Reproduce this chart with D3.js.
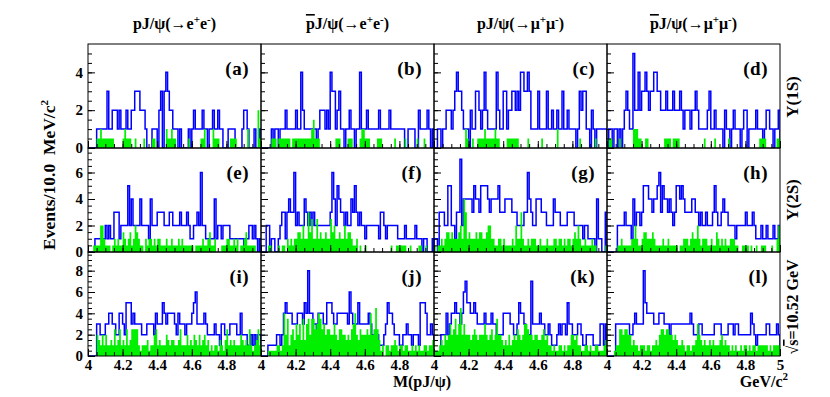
<!DOCTYPE html>
<html>
<head>
<meta charset="utf-8">
<script src="https://cdn.jsdelivr.net/npm/d3@7"></script>
<style>
  body { margin: 0; background: #fff; }
  text { font-family: 'Liberation Serif', 'Times New Roman', serif; font-weight: bold; }
  .frame { fill: none; stroke: #000; stroke-width: 1; }
  .tick line { stroke: #000; }
  .domain { display: none; }
</style>
</head>
<body>
<div id="chart"></div>
<script>
// bin contents, 100 bins of 10 MeV from 4.00 to 5.00 GeV
// blue = signal region, green = scaled sideband
var blueA = [0,0,0,0,0,1,1,1,1,1, 1,3,1,1,2,2,2,1,2,1, 1,1,2,1,1,2,2,3,3,3, 2,2,2,1,0,0,0,1,1,1,
             0,2,3,0,3,4,3,2,2,1, 1,1,0,1,0,0,0,0,1,0, 1,2,1,1,1,1,2,1,1,0, 1,1,2,1,1,2,1,1,0,0,
             0,1,1,1,1,0,0,0,0,1, 2,2,1,0,0,0,1,0,0,1];
var greenA = [0,0,0,0,0,0.5,0.5,1,0.5,0.5, 0.5,0.5,0.5,0.5,0.5,0,0,0,0,0, 0.5,1,0.5,0.5,0.5,0,0,0.5,0,0,
              0,0,0.5,0,0,0,0,0.5,0.5,0, 0,0,0,0,0,1,0.5,0.5,1,0.5, 0.5,0,0,0,0,0,0,0,0.5,0,
              0,0,0,0,0,0.5,0.5,1,0,0, 0,0,1,0.5,0.5,0.5,0,0,0,0, 0,0,0.5,0.5,0.5,0.5,0,0,0,0,
              0,0,1,0,0,0,0,0,2,0.5];
var blueB = [0,0,0,0,0,0,1,0,1,1, 0,1,1,1,2,1,1,1,1,1, 2,1,1,4,2,1,1,1,1,1, 1,1,0,1,2,2,2,1,2,1,
             4,3,3,1,2,3,1,1,0,1, 1,2,1,1,0,1,1,4,1,1, 1,2,1,1,1,1,1,1,2,1, 1,1,1,1,2,1,1,1,1,1,
             1,1,1,0,0,1,1,1,1,0, 0,2,1,1,1,1,2,1,0,1];
var greenB = [0,0,0,0,0,0,0.5,0.5,0.5,0, 0.5,0.5,0.5,0.5,0.5,0.5,0.5,0,0.5,0.5, 0.5,0.5,0.5,0.5,0.5,0.5,0.5,0.5,0.5,1,
              1.5,0.5,0.5,0.5,0,0,0,0,0,0, 0,0,0,0.5,0.5,0.5,0,0,0,0, 0.5,0.5,0.5,0,0,0,0,0.5,1,1,
              0.5,0.5,0.5,0,0,0,0,0.5,0.5,0.5, 0,0,0,0,0,0,0,0.5,0,0, 0,0,0,0.5,0,0,0,0,0,0,
              0.5,0,0,0,0.5,0,0,0,0,0];
var blueC = [0,0,1,1,0,1,1,2,2,2, 1,2,3,4,3,3,2,1,1,1, 0,2,1,1,3,3,2,1,2,4, 2,1,1,1,1,1,4,2,1,1,
             3,3,1,2,2,3,3,2,3,2, 4,4,3,3,4,3,1,1,1,1, 3,1,1,1,1,3,1,1,2,1, 1,2,1,1,3,1,1,2,1,1,
             1,1,0,1,3,2,3,3,1,1, 0,2,1,0,1,1,1,1,1,1];
var greenC = [0,0,0,0,0,0,0,0,0,0, 0,0,0,0,0,0,0,0,1,0.5, 0,0,0.5,0,0,0.5,0.5,0.5,0.5,1,
              0.5,0.5,0.5,0.5,0.5,1,0.5,0.5,0,0, 0,0,0.5,0.5,0.5,0.5,0.5,0.5,0.5,0, 0,0,0,0,0.5,0,0,0,0,0,
              0,0,0.5,0,0,0,0,0,0,0, 0,1,0,0,0,0,0,0,0,0, 0,0,0,0,0.5,0,0,0,0,0,
              0,0,0,0.5,0,0,0,0,0,0];
var blueD = [0,1,1,0,1,1,0,1,0,1, 2,3,2,1,1,5,2,2,4,2, 3,3,4,3,2,3,3,4,4,3, 3,2,2,2,3,2,2,2,3,2,
             2,2,3,2,1,2,2,2,1,2, 2,3,2,1,1,1,1,1,2,3, 1,1,2,1,1,1,1,0,2,1, 1,0,1,2,1,1,1,0,1,2,
             2,0,1,1,1,1,2,1,1,1, 0,1,2,2,1,1,0,1,1,2];
var greenD = [0,0.5,0.5,0,0,0,0,0.5,0,0, 0,0,0,0,0,1,1,1,0.5,0.5, 0,0,0.5,0.5,0,0,0,0,0,0,
              0,0,0,0.5,0.5,0.5,0.5,0,0.5,0.5, 0.5,0.5,0,0,0,0,0,0,0,0, 0,0,0,0,0,0,0.5,0,0,0,
              0,0,0.5,0,0,0,0,0,0,0, 0.5,0,0,0,0,0,0,0,0,0, 0,0,0,0,0,0,0,0,0.5,0.5,
              0.5,0.5,0,0,0,0,0,0,0.5,0.5];

var blueE = [0,0,0,0,1,1,1,1,1,1, 2,1,2,1,1,3,3,3,1,2, 2,2,2,5,2,4,2,2,2,2, 4,2,2,2,2,1,4,2,2,2,
             3,3,3,3,2,2,2,3,3,2, 2,2,2,3,2,2,2,3,2,1, 1,2,2,3,2,6,2,2,1,1, 1,1,1,4,1,2,2,1,2,2,
             2,2,1,1,1,1,1,1,1,1, 0,1,1,2,2,1,2,1,0,1];
var greenE = [0,0,0,0.5,0.5,0.5,0.5,2,2,1, 0.5,0.5,0.5,0,0.5,1,0.5,1,0.5,0.5, 1.5,1,0.5,1,1.5,0.5,1,2,1.5,1,
              0.5,0.5,0,1,0.5,1,1,0.5,1,0.5, 1,1,0.5,0.5,0.5,1,0.5,0.5,1,0.5, 0.5,0.5,1,0.5,1,0.5,0.5,0.5,0.5,0.5,
              0.5,0,0.5,0.5,0.5,0.5,1,0.5,0.5,1, 1.5,0.5,0.5,1,0,0,0,0.5,0.5,0.5, 1,1,0.5,0.5,1,0.5,1,0,0.5,0.5,
              1,1.5,0.5,0.5,0.5,0.5,0.5,0,0,0];
var blueF = [0,0,0,2,2,0,1,1,0,0, 1,2,3,3,1,3,4,3,3,6, 2,3,2,2,2,4,3,2,3,2, 3,2,2,2,2,2,2,2,2,2,
             3,6,4,2,5,4,3,3,2,3, 2,2,4,3,5,3,2,3,2,2, 1,2,2,2,2,2,2,2,1,3, 3,2,1,2,2,2,2,2,2,1,
             1,1,1,2,1,1,1,1,1,2, 1,1,1,0,1,1,0,0,0,1];
var greenF = [0,0,0,0,0.5,0.5,0,0,0,0, 0.5,0,0.5,0.5,0,1,0.5,1,0.5,1, 1,1.5,1.5,1,2,1,1,3,1.5,2.5,
              1,1,2.5,1,1.5,1,1,1.5,1,1, 2.5,1.5,2,1,1,1.5,1,1,2,1, 1.5,1.5,1,0.5,0.5,1,0,0.5,0,0,
              0.5,0,0,0,0,0,0,0,0,0, 0,0,0,0,0,0.5,0,0,0.5,0.5, 0.5,0.5,0.5,0.5,0,0,0.5,0,0,0,
              0,0.5,0.5,0,0,0.5,0,0,0,0];
var blueG = [1,1,0,3,3,3,2,2,5,5, 2,2,1,3,3,7,2,4,4,4, 4,4,3,5,4,4,3,5,5,5, 5,4,3,4,4,4,4,5,3,3,
             3,4,4,4,4,3,3,3,2,2, 2,2,3,3,6,4,3,2,2,4, 4,4,3,3,3,2,2,2,2,4, 3,3,3,2,2,2,2,3,3,3,
             3,2,2,2,2,2,1,2,2,1, 1,1,1,0,4,1,1,0,0,3];
var greenG = [0.5,0,0.5,0.5,1,0.5,1,1.5,1.5,1, 1.5,1,1,1,1.5,2,1,4,3,1, 1.5,1,1,1,1.5,1,1.5,1.5,1,1,
              1.5,2,2,1,1,0.5,0.5,1,1,0.5, 1,0.5,0.5,0.5,0.5,1,0.5,2,1,1, 3,1,0.5,0.5,1,0.5,1,1,1,0.5,
              0.5,1,0.5,0.5,0.5,1,0.5,0.5,0.5,1, 1,0.5,1,1,0.5,1,0.5,1,1,0.5, 1,1.5,1,2,1,0.5,0.5,1,0.5,0.5,
              0.5,1,0.5,0.5,0,0,0,0,0,0.5];
var blueH = [0,0,0,0,0,0,2,2,2,2, 3,2,2,2,1,4,2,3,3,2, 3,5,5,5,4,4,3,4,4,5, 6,3,5,4,4,3,4,3,2,3,
             5,5,4,5,4,3,3,3,3,4, 4,3,3,2,3,2,2,3,2,2, 2,3,5,3,2,2,3,4,3,3, 2,2,2,2,1,2,2,2,2,2,
             3,2,2,2,3,2,1,1,1,2, 1,1,2,1,1,1,2,1,1,2];
var greenH = [0,0,0,0,0,0,0.5,0.5,1,0.5, 0.5,0.5,0.5,0.5,1,1,2,1,0.5,0.5, 1,1.5,1.5,1,1,1,1.5,1,0.5,0.5,
              0.5,0.5,1,0.5,0.5,1,0.5,0.5,0.5,0.5, 0.5,0,0.5,0.5,1,1,1,0.5,1,1.5, 1,1,2,1,0.5,1,1,1,0.5,0.5,
              1,0.5,0.5,1.5,1,0.5,1,0.5,1,0.5, 0.5,1,1,1,0.5,0.5,0,0,0.5,0.5, 0.5,0.5,0,0.5,0,0,0.5,0,0,0.5,
              0.5,0.5,0,0,0,0.5,0,0,1,2];

var blueI = [0,0,0,0,0,3,3,2,2,2, 3,3,4,4,3,3,2,2,4,4, 3,2,5,5,5,3,4,3,3,3, 3,2,2,2,3,3,3,3,2,4,
             3,3,3,5,4,3,4,4,4,4, 3,2,4,3,3,3,2,3,3,3, 4,5,6,3,3,3,3,4,3,2, 2,2,2,3,2,2,1,3,3,2,
             2,2,3,3,3,3,2,2,4,2, 2,2,1,1,2,1,2,1,2,2];
var greenI = [0,0,0,0,0,2,1.5,1,2,1, 2,1,1,1.5,1,2.5,1,1.5,2.5,1, 1.5,1,2.5,1,1.5,2.5,2.5,2.5,2.5,1,
              0.5,1,1,1,1.5,0.5,1,1,2,2.5, 1,1.5,1,1,1,2,1.5,1,1.5,1.5, 1,1,1.5,2.5,1,1,1,2,1,1.5,
              1,2,1.5,1,2,1,1.5,2,1,1.5, 0.5,1,0.5,1,1,0.5,1.5,1,0.5,1.5, 2.5,1,1.5,1,1.5,1,1,1,2,1.5,
              1,1.5,1,2.5,1,0.5,1,1.5,2.5,1];
var blueJ = [0,0,0,0,1,1,1,1,1,2, 2,1,2,4,5,4,4,4,3,3, 3,4,4,4,3,5,4,8,4,4, 3,3,2,4,4,4,3,3,5,5,
             5,4,3,3,4,4,4,4,4,4, 3,6,4,3,3,3,5,3,3,3, 3,3,4,3,2,2,2,2,1,1, 1,2,3,5,4,4,3,2,2,2,
             1,1,2,2,3,2,2,1,2,2, 2,1,5,5,5,4,2,2,3,2];
var greenJ = [0,0,0,0,0.5,0.5,0.5,0.5,0.5,1, 1,0.5,1,4,2,3.5,1,2,2.5,1.5, 3,2,3,1.5,3.5,1.5,3,3.5,2,3.5,
              3.5,2.5,3,4,3.5,2.5,3,2,2.5,2.5, 2,2,3,2,1.5,2.5,2.5,2,2,1.5, 2,1.5,2.5,3,4,2,1.5,2.5,2,2,
              2,2.5,2,4,2,2.5,4.5,2.5,1.5,0.5, 1,0,1,1,0.5,1,1,1.5,1,0.5, 1,1,0.5,1,1,0.5,0.5,1,0.5,1,
              0.5,1,0.5,0.5,1,1,0.5,1,1,1.5];
var blueK = [0,0,0,0,2,2,2,4,2,3, 4,4,5,4,4,3,4,6,7,5, 5,4,4,5,4,3,3,3,3,4, 3,3,3,4,3,3,2,2,2,2,
             4,4,4,4,3,3,2,2,3,5, 4,4,3,2,2,2,7,3,3,3, 3,4,3,3,2,2,3,2,1,1, 1,2,3,2,3,3,2,5,3,3,
             2,2,2,3,3,2,1,1,2,2, 2,2,1,1,1,1,3,3,1,3];
var greenK = [0.5,0.5,0.5,1,1.5,1,2,1.5,2,3, 2,2.5,3.5,2,3,4.5,2,3,2,2, 2,1.5,2,2.5,2,1.5,2,2,2,3,
              2,1.5,2,2.5,1.5,2,3.5,2,2,1.5, 1,1.5,1,2,1,1.5,2,1.5,2.5,2, 1.5,2,3,3,2.5,2,2,1.5,2,2,
              1.5,1.5,2,2.5,1.5,2,1,1,0.5,1, 0.5,0.5,1,1,0.5,1,0.5,1,1,2, 2,1.5,2,1,1,0.5,0.5,1,1,0.5,
              1,0.5,0.5,1,1,0.5,0.5,0.5,1,1.5];
var blueL = [0,0,0,0,0,3,3,3,3,3, 3,3,3,2,2,3,4,3,3,3, 3,8,5,4,4,4,4,3,3,3, 4,4,4,3,3,3,2,3,3,3,
             3,3,3,3,3,3,3,3,4,3, 2,2,2,3,3,2,2,2,2,2, 2,2,3,3,3,3,2,2,2,2, 3,3,3,2,3,3,2,2,2,2,
             2,2,2,4,3,2,1,2,2,2, 2,2,3,3,2,2,2,2,3,2];
var greenL = [0,0,0,0,0.5,1,1,2.5,2.5,2, 2.5,2.5,2,2,1,1.5,1,1,0.5,1, 1,1,0.5,1,1,0.5,1,1,1.5,1,
              2,2.5,2.5,2,2.5,2.5,2,2,1.5,2, 1.5,1,1,1.5,1,0.5,1,1,0.5,1, 1,1.5,3,2,1.5,1,1.5,1,1,1.5,
              1,1.5,1,1,1,1.5,2,1,1.5,1, 1,0.5,1,0.5,1,0.5,0.5,1,0.5,1, 1,0.5,1,0.5,1,1,0.5,1,1,1,
              1,1,1,0.5,1,0.5,1,1,1,1];

var panelLetters = ["(a)","(b)","(c)","(d)","(e)","(f)","(g)","(h)","(i)","(j)","(k)","(l)"];
var rowMax = [5.5, 7.85, 9.75];
var rowTicks = [[0,2,4], [0,2,4,6], [0,2,4,6,8]];
var xTickLabels = [4, 4.2, 4.4, 4.6, 4.8];

var blueAll = [blueA, blueB, blueC, blueD, blueE, blueF, blueG, blueH, blueI, blueJ, blueK, blueL];
var greenAll = [greenA, greenB, greenC, greenD, greenE, greenF, greenG, greenH, greenI, greenJ, greenK, greenL];

var width = 830, height = 397;
var colEdges = [88, 261, 434, 607, 780];
var rowEdges = [44, 148, 252, 356];
var binW = 0.01;

var svg = d3.select("#chart").append("svg")
    .attr("width", width).attr("height", height);

// column titles
var titles = [[false, "e"], [true, "e"], [false, "\u03BC"], [true, "\u03BC"]];
titles.forEach(function(t, c) {
    var tx = svg.append("text")
        .attr("x", (colEdges[c] + colEdges[c+1]) / 2).attr("y", 29)
        .attr("text-anchor", "middle").attr("font-size", 16);
    if (t[0]) {
        tx.append("tspan").text("p").style("text-decoration", "overline");
    } else {
        tx.append("tspan").text("p");
    }
    tx.append("tspan").text("J/\u03C8(\u2192" + t[1]);
    tx.append("tspan").text("+").attr("dy", -6).attr("font-size", 11);
    tx.append("tspan").text(t[1]).attr("dy", 6);
    tx.append("tspan").text("-").attr("dy", -6).attr("font-size", 11);
    tx.append("tspan").text(")").attr("dy", 6);
});

for (var p = 0; p < 12; p++) {
    var r = Math.floor(p / 4), c = p % 4;
    var x = d3.scaleLinear().domain([4, 5]).range([colEdges[c], colEdges[c+1]]);
    var y = d3.scaleLinear().domain([0, rowMax[r]]).range([rowEdges[r+1], rowEdges[r]]);

    var blue = blueAll[p], green = greenAll[p];
    var pts = [[4, 0]];
    blue.forEach(function(v, i) { pts.push([4 + i * binW, v]); });
    pts.push([5, blue[blue.length - 1]]);
    pts.push([5, 0]);
    var gpts = green.map(function(v, i) { return [4 + i * binW, v]; });
    gpts.push([5, green[green.length - 1]]);

    var clipId = "clip" + p;
    svg.append("clipPath").attr("id", clipId).append("rect")
        .attr("x", colEdges[c]).attr("y", rowEdges[r])
        .attr("width", colEdges[c+1] - colEdges[c]).attr("height", rowEdges[r+1] - rowEdges[r]);

    var g = svg.append("g").attr("clip-path", "url(#" + clipId + ")");

    var line = d3.line().curve(d3.curveStepAfter)
        .x(function(d) { return x(d[0]); }).y(function(d) { return y(d[1]); });
    g.append("path").datum(pts).attr("d", line)
        .attr("fill", "none").attr("stroke", "#0000ff").attr("stroke-width", 1.5);

    var area = d3.area().curve(d3.curveStepAfter)
        .x(function(d) { return x(d[0]); }).y0(y(0)).y1(function(d) { return y(d[1]); });
    g.append("path").datum(gpts).attr("d", area).attr("fill", "#00f000");

    // ticks (inside frame)
    var yMajor = d3.axisLeft(y).tickValues(rowTicks[r]).tickSizeInner(-7).tickSizeOuter(0).tickPadding(5)
        .tickFormat(c === 0 ? d3.format("d") : function() { return ""; });
    var yg = svg.append("g").attr("transform", "translate(" + colEdges[c] + ",0)").call(yMajor);
    yg.selectAll("text").attr("font-size", 15).attr("fill", "#000")
        .style("font-family", "'Liberation Serif', serif").style("font-weight", "bold");
    var yMinor = d3.axisLeft(y).tickValues(d3.range(0, rowMax[r], 0.5)).tickSizeInner(-4).tickSizeOuter(0).tickFormat("");
    svg.append("g").attr("transform", "translate(" + colEdges[c] + ",0)").call(yMinor);

    var xMajor = d3.axisBottom(x).tickValues(d3.range(4, 5.01, 0.2)).tickSizeInner(-7).tickSizeOuter(0).tickFormat("");
    svg.append("g").attr("transform", "translate(0," + rowEdges[r+1] + ")").call(xMajor);
    var xMinor = d3.axisBottom(x).tickValues(d3.range(4, 5.001, 0.05)).tickSizeInner(-4).tickSizeOuter(0).tickFormat("");
    svg.append("g").attr("transform", "translate(0," + rowEdges[r+1] + ")").call(xMinor);

    if (r === 2) {
        var labs = c === 3 ? xTickLabels.concat([5]) : xTickLabels;
        var xl = d3.axisBottom(x).tickValues(labs).tickSize(0).tickPadding(3)
            .tickFormat(function(d) { return d3.format("")(+d.toFixed(1)); });
        var xg = svg.append("g").attr("transform", "translate(0," + rowEdges[r+1] + ")").call(xl);
        xg.selectAll("text").attr("font-size", 15).attr("fill", "#000")
            .style("font-family", "'Liberation Serif', serif").style("font-weight", "bold");
    }

    svg.append("rect").attr("class", "frame")
        .attr("x", colEdges[c]).attr("y", rowEdges[r])
        .attr("width", colEdges[c+1] - colEdges[c]).attr("height", rowEdges[r+1] - rowEdges[r]);

    svg.append("text").attr("x", colEdges[c+1] - 12).attr("y", rowEdges[r] + 31)
        .attr("text-anchor", "end").attr("font-size", 19).attr("letter-spacing", 0.5)
        .text(panelLetters[p]);
}

// row labels on the right
svg.append("text").attr("transform", "translate(798,97) rotate(-90)")
    .attr("text-anchor", "middle").attr("font-size", 17).text("\u03A5(1S)");
svg.append("text").attr("transform", "translate(798,200) rotate(-90)")
    .attr("text-anchor", "middle").attr("font-size", 17).text("\u03A5(2S)");
var rs = svg.append("text").attr("transform", "translate(798,307) rotate(-90)")
    .attr("text-anchor", "middle").attr("font-size", 16);
rs.append("tspan").text("\u221A");
rs.append("tspan").text("s").style("text-decoration", "overline");
rs.append("tspan").text("=10.52 GeV");

// y axis title
var yt = svg.append("text").attr("transform", "translate(55,175) rotate(-90)")
    .attr("text-anchor", "middle").attr("font-size", 17.5);
yt.append("tspan").text("Events/10.0\u00A0\u00A0MeV/c");
yt.append("tspan").text("2").attr("dy", -7).attr("font-size", 11);

// x axis titles
svg.append("text").attr("x", 422).attr("y", 387).attr("text-anchor", "middle")
    .attr("font-size", 16).text("M(pJ/\u03C8)");
var gx = svg.append("text").attr("x", 788).attr("y", 387).attr("text-anchor", "end").attr("font-size", 16);
gx.append("tspan").text("GeV/c");
gx.append("tspan").text("2").attr("dy", -7).attr("font-size", 11);
</script>
</body>
</html>
